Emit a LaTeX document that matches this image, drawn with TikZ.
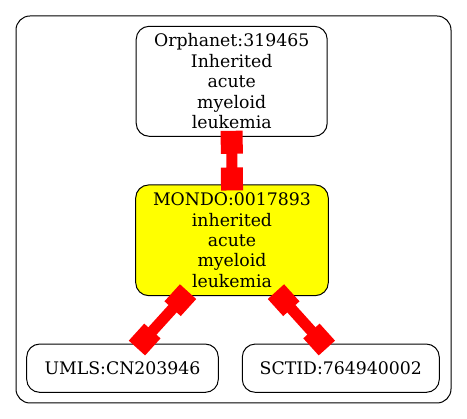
\documentclass[tikz,border=0pt]{standalone}
\usepackage{fontspec}
\setmainfont{DejaVu Serif}
\usetikzlibrary{calc}
\definecolor{ylw}{RGB}{255,255,0}
\definecolor{rd}{RGB}{255,0,0}
\begin{document}
\begin{tikzpicture}[x=1pt,y=1pt,
  nodebox/.style={draw=black, line width=1pt, rounded corners=13pt, align=center, inner sep=0pt,
    font=\fontsize{17.3}{20.4}\selectfont},
  tipbox/.style={fill=rd, draw=none, inner sep=0pt, minimum width=23pt, minimum height=22pt, sloped},
  link/.style={draw=rd, line width=11pt}]
\useasboundingbox (0,0) rectangle (467,-419);
\node[draw=black, line width=1pt, rounded corners=14pt, minimum width=435pt, minimum height=387pt, inner sep=0pt] (cluster) at (233.5,-209.5) {};
\node[nodebox, minimum width=191pt, minimum height=110pt] (orph) at (231.7,-81.3)
  {Orphanet:319465\\Inherited\\acute\\myeloid\\leukemia};
\node[nodebox, fill=ylw, minimum width=192.6pt, minimum height=110.7pt] (mondo) at (232,-240.3)
  {MONDO:0017893\\inherited\\acute\\myeloid\\leukemia};
\node[nodebox, minimum width=191.6pt, minimum height=48.3pt] (umls) at (122.5,-368.2) {UMLS:CN203946};
\node[nodebox, minimum width=197pt, minimum height=48.3pt] (sctid) at (340.8,-368.2) {SCTID:764940002};
\path[link] (orph.south) -- node[tipbox,pos=0.115]{} node[tipbox,pos=0.885]{} (mondo.north);
\path[link] ($(mondo.south)+(-48,0)$) -- node[tipbox,pos=0.085]{} node[tipbox,pos=0.915]{} ($(umls.north)+(18.5,0)$);
\path[link] ($(mondo.south)+(48,0)$) -- node[tipbox,pos=0.085]{} node[tipbox,pos=0.915]{} ($(sctid.north)+(-18,0)$);
\end{tikzpicture}
\end{document}
